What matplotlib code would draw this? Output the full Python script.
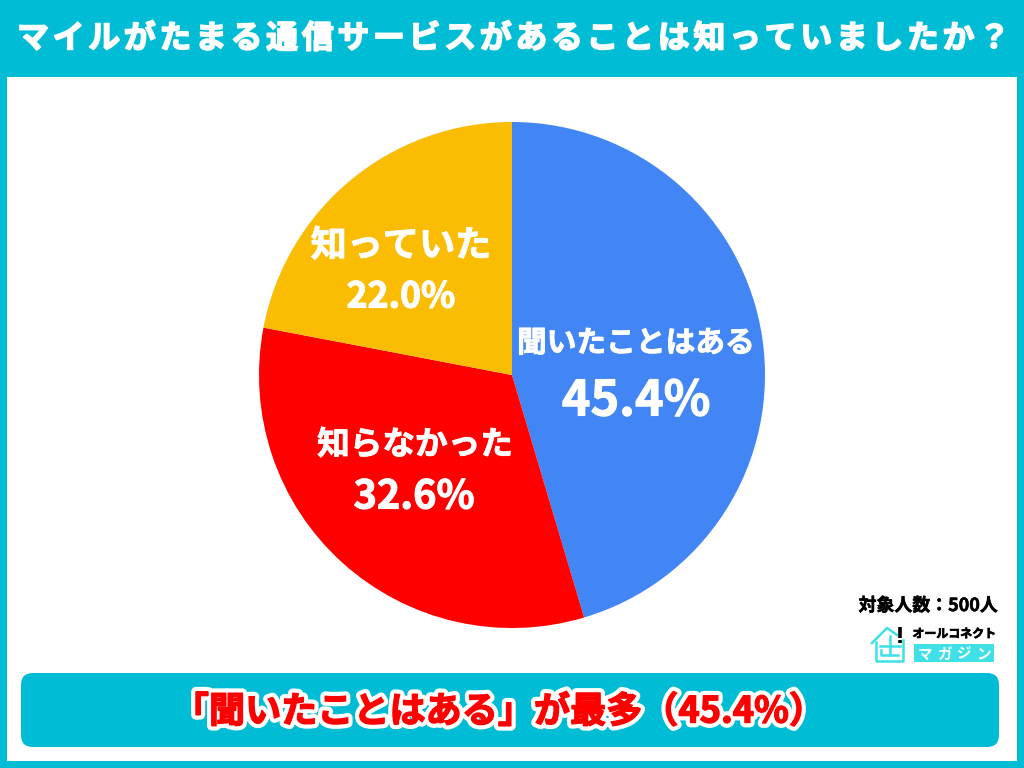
import matplotlib
matplotlib.use("Agg")
import matplotlib.pyplot as plt
import matplotlib.patheffects as pe
from matplotlib.patches import FancyBboxPatch, Rectangle

plt.rcParams['font.family'] = ['Noto Sans CJK JP', 'DejaVu Sans']

title = "マイルがたまる通信サービスがあることは知っていましたか？"
categories = ["聞いたことはある", "知らなかった", "知っていた"]
values = [45.4, 32.6, 22.0]
colors = ["#4285F4", "#FF0000", "#FBBC04"]
summary = "「聞いたことはある」が最多（45.4%）"
sample_note = "対象人数：500人"
logo_top = "オールコネクト"
logo_bottom = "マガジン"

TEAL = "#00BCD4"
LOGO_TEAL = "#3FE0E8"
H = 768


def y(py):
    # positions below are measured from the top edge
    return H - py


def heavy(width, color="white"):
    # thickens the bold face a little
    return [pe.withStroke(linewidth=width, foreground=color)]


fig = plt.figure(figsize=(10.24, 7.68), dpi=100, facecolor=TEAL)
ax = fig.add_axes([0, 0, 1, 1])

# white panel inside the teal frame
ax.add_patch(Rectangle((7, y(761)), 1010, 684, fc="white", ec="none", zorder=0))

ax.pie(values, colors=colors, startangle=90, counterclock=False,
       center=(512, y(375)), radius=253, frame=True,
       wedgeprops={"linewidth": 0})
ax.set_xlim(0, 1024)
ax.set_ylim(0, H)
ax.set_aspect("equal")
ax.axis("off")

# title is spaced out one character at a time
step = 35.6
for i, ch in enumerate(title):
    ax.text(33 + i * step, y(39), ch, color="white", fontsize=23, fontweight="bold",
            ha="center", va="center", zorder=5, path_effects=heavy(1.2))

# slice labels
label_pos = [(636, 343, 21.4), (415, 445, 23.5), (401, 246, 26)]
value_pos = [(636, 401, 35), (414, 497, 28.5), (401, 297, 25.6)]
for cat, val, lp, vp in zip(categories, values, label_pos, value_pos):
    ax.text(lp[0], y(lp[1]), cat, color="white", fontsize=lp[2], fontweight="bold",
            ha="center", va="center", zorder=5, path_effects=heavy(0.6))
    ax.text(vp[0], y(vp[1]), f"{val:.1f}%", color="white", fontsize=vp[2], fontweight="bold",
            ha="center", va="center", zorder=5, path_effects=heavy(0.8))

# summary bar
ax.add_patch(FancyBboxPatch((33, y(735)), 954, 50, boxstyle="round,pad=12,rounding_size=12",
                            fc=TEAL, ec="none", zorder=3))
ax.text(499, y(712), summary, color="#FF0000", fontsize=26, fontweight="bold",
        ha="center", va="center", zorder=5,
        path_effects=[pe.withStroke(linewidth=7, foreground="white"),
                      pe.withStroke(linewidth=1, foreground="#FF0000")])

ax.text(928, y(606), sample_note, color="black", fontsize=12.9, fontweight="bold",
        ha="center", va="center", zorder=5, path_effects=heavy(0.4, "black"))

# logo: house outline with an exclamation mark
lw = 1.8
ax.plot([876, 876, 903, 903], [y(642), y(661), y(661), y(640)], color=LOGO_TEAL, lw=lw, zorder=5)
ax.plot([872, 887, 897], [y(643), y(628), y(635)], color=LOGO_TEAL, lw=lw, zorder=5)
ax.plot([880, 900], [y(646), y(646)], color=LOGO_TEAL, lw=lw, zorder=5)
ax.plot([890, 890], [y(636), y(655)], color=LOGO_TEAL, lw=lw, zorder=5)
ax.plot([881, 881, 898], [y(650), y(655), y(655)], color=LOGO_TEAL, lw=lw, zorder=5)
ax.plot([900, 900], [y(627), y(638)], color="black", lw=2.6, zorder=6, solid_capstyle="butt")
ax.plot([900, 900], [y(640), y(642.5)], color="black", lw=2.6, zorder=6, solid_capstyle="butt")
ax.text(954, y(634), logo_top, color="black", fontsize=8.6, fontweight="bold",
        ha="center", va="center", zorder=5, path_effects=heavy(0.5, "black"))
ax.add_patch(Rectangle((914, y(662)), 80, 18, fc=LOGO_TEAL, ec="none", zorder=4))
for i, ch in enumerate(logo_bottom):
    ax.text(925 + i * 19.5, y(653.5), ch, color="white", fontsize=10.5, fontweight="bold",
            ha="center", va="center", zorder=5)

fig.savefig("out.png", dpi=100, facecolor=TEAL)
